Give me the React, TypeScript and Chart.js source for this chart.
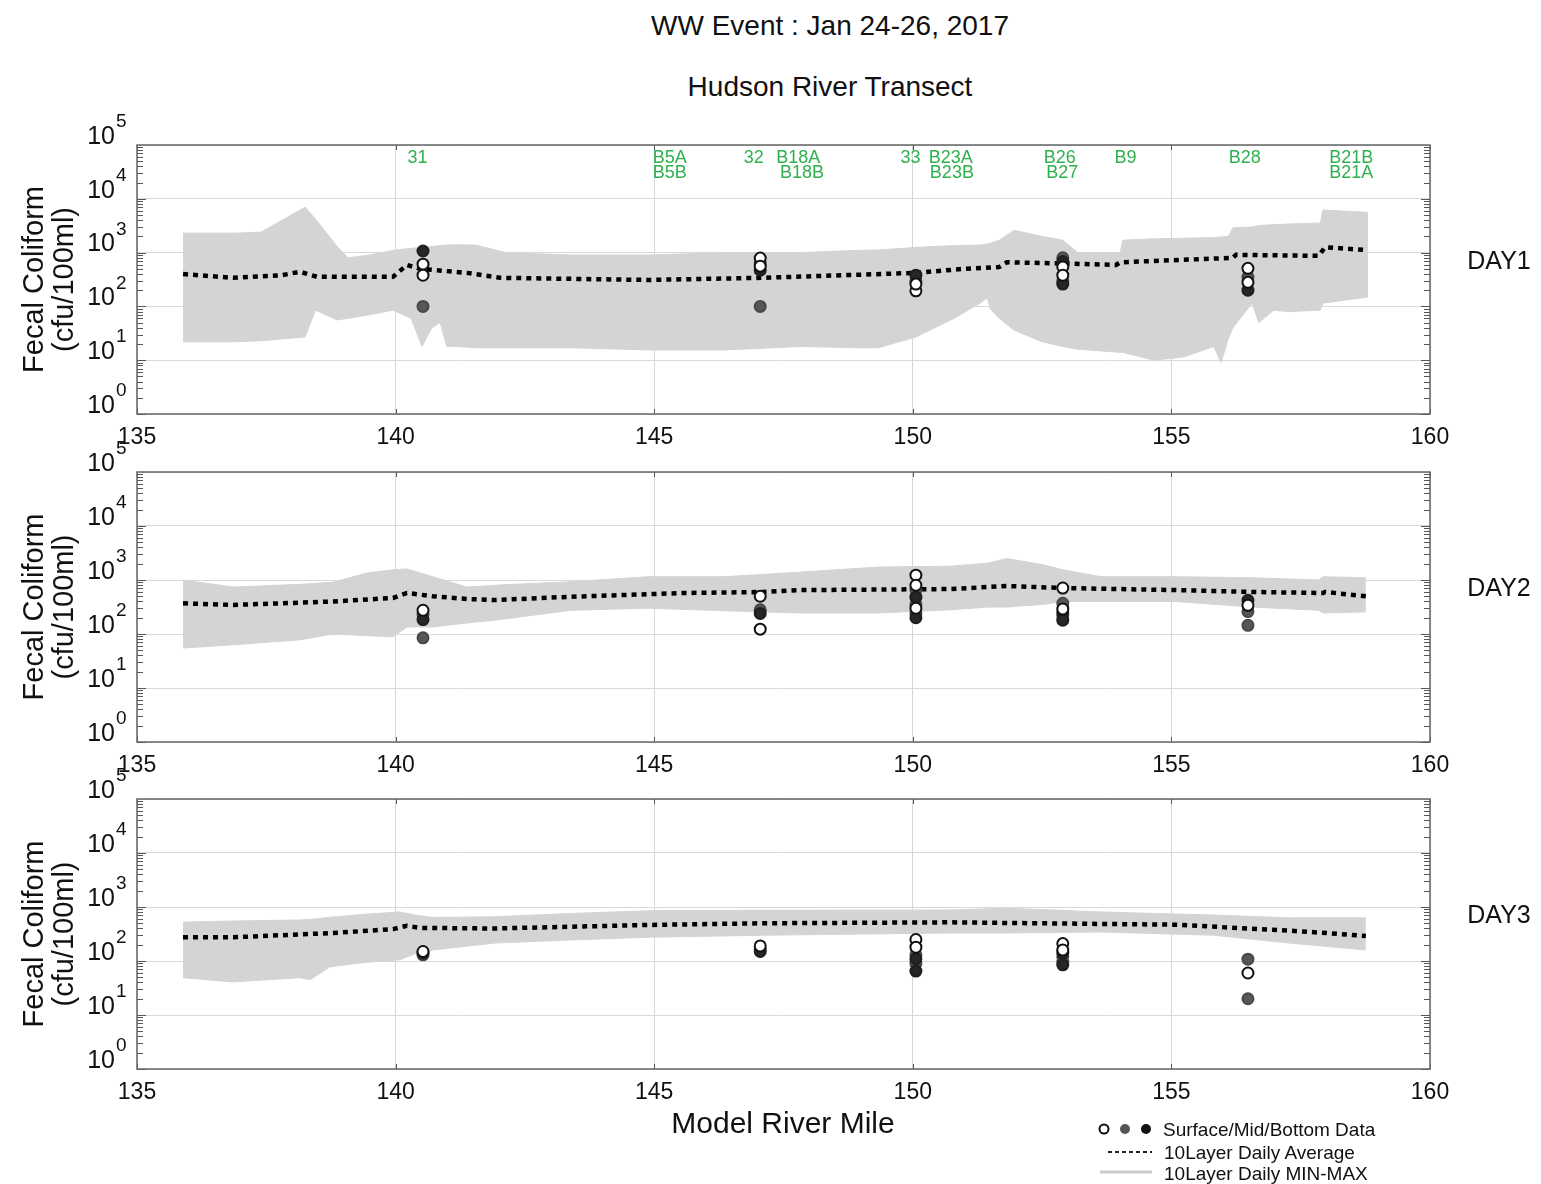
import React, { useEffect, useRef } from 'react';
import { Chart, registerables } from 'chart.js';

Chart.register(...registerables);

const FONT = '"Liberation Sans", Arial, Helvetica, sans-serif';

// ---------- axes ----------
const X_MIN = 135;
const X_MAX = 160;
const xTickValues = [135, 140, 145, 150, 155, 160];
const yExponents = [0, 1, 2, 3, 4, 5];

// ---------- station labels (panel 1) ----------
const stationNames = ['31', 'B5A', 'B5B', '32', 'B18A', 'B18B', '33', 'B23A', 'B23B', 'B26', 'B27', 'B9', 'B28', 'B21B', 'B21A'];
const stationLabelMiles = [140.23, 144.97, 144.97, 146.73, 147.36, 147.43, 149.76, 150.31, 150.33, 152.53, 152.58, 153.9, 156.11, 158.05, 158.05];
const stationLabelRows = [0, 0, 1, 0, 0, 1, 0, 0, 1, 0, 1, 0, 0, 0, 1];

// ---------- sampling locations ----------
const sampleMiles = [140.53, 147.05, 150.06, 152.9, 156.48];

// ---------- DAY 1 ----------
const day1BandMiles = [135.89, 136.9, 137.4, 138.25, 138.45, 138.87, 139.08, 139.5, 139.95, 140.3, 140.51, 140.7, 140.86, 140.99, 141.19, 141.55, 142.13, 143.4, 144.9, 146.35, 147.84, 148.94, 149.33, 150.06, 150.8, 151.3, 151.44, 151.5, 151.67, 151.96, 152.5, 152.9, 153.19, 154.01, 154.06, 154.66, 155.24, 155.82, 155.96, 156.1, 156.19, 156.56, 156.69, 156.98, 157.27, 157.88, 157.93, 158.8];
const day1BandMin = [22, 22, 23, 27, 85, 56, 60, 70, 85, 60, 18, 40, 50, 18, 18, 17, 17, 17, 15.5, 15.5, 18, 17, 17, 27, 60, 115, 145, 90, 60, 36, 22, 18, 16, 14, 14, 10, 11.5, 18, 9, 25, 40, 115, 50, 85, 80, 85, 115, 150];
const day1BandMax = [2300, 2300, 2400, 7000, 4200, 1300, 800, 900, 1100, 1200, 1250, 1300, 1350, 1380, 1400, 1380, 1000, 900, 900, 1000, 1000, 1100, 1120, 1250, 1350, 1380, 1450, 1500, 1700, 2600, 2000, 1700, 1000, 1000, 1700, 1800, 1850, 1900, 1950, 2000, 2900, 3000, 3200, 3300, 3400, 3550, 6200, 5600];
const day1AvgMiles = [135.89, 136.86, 137.8, 138.15, 138.48, 139.95, 140.22, 140.47, 141.38, 142.02, 144.88, 147.1, 150.06, 151.0, 151.67, 151.82, 152.9, 153.93, 154.01, 156.19, 156.25, 157.85, 157.97, 158.74];
const day1Avg = [400, 340, 380, 440, 355, 355, 590, 500, 420, 340, 310, 340, 420, 500, 540, 660, 630, 590, 660, 800, 910, 870, 1260, 1120];
const day1Surface = [[610, 380], [790, 560], [195, 260], [540, 380], [510, 280]];
const day1Mid = [[100], [640, 100], [300], [800, 300], [350]];
const day1Bottom = [[1070], [470], [380], [680, 260], [200]];

// ---------- DAY 2 ----------
const day2BandMiles = [135.89, 136.86, 138.15, 138.79, 139.45, 139.95, 140.22, 140.72, 141.38, 141.92, 143.39, 144.88, 146.35, 147.84, 149.33, 150.72, 151.45, 151.82, 152.54, 152.9, 153.64, 155.09, 156.56, 157.85, 157.93, 158.76];
const day2BandMin = [55, 63, 78, 100, 93, 89, 135, 135, 160, 180, 275, 300, 270, 245, 245, 280, 315, 315, 355, 400, 400, 400, 315, 275, 245, 257];
const day2BandMax = [1000, 740, 830, 910, 1350, 1550, 1600, 1150, 740, 800, 930, 1150, 1150, 1400, 1740, 1800, 2050, 2500, 1900, 1550, 1150, 1150, 1100, 1000, 1150, 1100];
const day2AvgMiles = [135.89, 136.86, 138.79, 139.95, 140.22, 140.72, 141.38, 141.92, 143.39, 145.61, 147.1, 147.84, 150.72, 151.82, 152.9, 155.09, 156.56, 157.93, 157.97, 158.76];
const day2Avg = [370, 345, 400, 465, 575, 500, 445, 425, 490, 575, 600, 650, 680, 775, 710, 650, 600, 575, 600, 500];
const day2Surface = [[275], [500, 123], [1230, 800, 300], [710, 290], [340]];
const day2Mid = [[230, 85], [280], [650, 350, 240], [370, 220], [260, 145]];
const day2Bottom = [[185], [240], [480, 200], [250, 180], [420]];

// ---------- DAY 3 ----------
const day3BandMiles = [135.89, 136.86, 138.15, 138.35, 138.73, 139.45, 140.08, 140.41, 140.72, 141.92, 143.39, 144.88, 147.1, 150.72, 151.82, 153.64, 155.82, 157.27, 158.76];
const day3BandMin = [49, 41, 49, 45, 78, 95, 105, 140, 160, 215, 245, 275, 300, 330, 330, 345, 300, 215, 160];
const day3BandMax = [525, 550, 575, 590, 645, 740, 810, 700, 640, 660, 760, 850, 870, 880, 950, 810, 710, 630, 630];
const day3AvgMiles = [135.89, 136.86, 138.79, 139.95, 140.22, 140.47, 141.92, 144.88, 147.1, 150.72, 155.09, 157.27, 158.0, 158.76];
const day3Avg = [275, 275, 330, 390, 450, 410, 400, 465, 500, 520, 470, 365, 330, 290];
const day3Surface = [[150], [190], [250, 180], [210, 160], [60]];
const day3Mid = [[130], [165], [130, 90], [120, 95], [108, 20]];
const day3Bottom = [[140], [150], [110, 65], [140, 85], []];

// ---------- layout ----------
const W = 1541;
const PLOT_LEFT = 137;
const PLOT_RIGHT = 1430;
const PAD_TOP = 40;
const PAD_BOTTOM = 50;

const BAND_COLOR = 'rgb(212,212,212)';

const toPts = (xs: number[], ys: number[]) => xs.map((x, i) => ({ x, y: ys[i] }));
const samplePts = (vals: number[][]) => sampleMiles.flatMap((m, i) => vals[i].map((v) => ({ x: m, y: v })));

const decorPlugin = {
  id: 'panelDecor',
  afterDraw(chart: any, _args: any, opts: any) {
    const { ctx, chartArea: a, scales } = chart;
    const x = scales.x;
    const y = scales.y;
    ctx.save();

    // minor / major ticks on left & right axes
    ctx.strokeStyle = '#555';
    ctx.lineWidth = 1;
    ctx.beginPath();
    for (let e = 0; e < 5; e++) {
      for (let m = 1; m <= 9; m++) {
        const py = Math.round(y.getPixelForValue(m * Math.pow(10, e))) + 0.5;
        const len = m === 1 ? 9 : 6;
        ctx.moveTo(a.left, py);
        ctx.lineTo(a.left + len, py);
        ctx.moveTo(a.right, py);
        ctx.lineTo(a.right - len, py);
      }
    }
    for (const t of xTickValues) {
      const px = Math.round(x.getPixelForValue(t)) + 0.5;
      ctx.moveTo(px, a.bottom);
      ctx.lineTo(px, a.bottom - 5);
      ctx.moveTo(px, a.top);
      ctx.lineTo(px, a.top + 5);
    }
    ctx.stroke();

    // frame
    ctx.strokeStyle = '#666';
    ctx.lineWidth = 1.5;
    ctx.strokeRect(a.left, a.top, a.right - a.left, a.bottom - a.top);

    // y tick labels 10^n
    ctx.fillStyle = '#111';
    for (const e of yExponents) {
      const py = y.getPixelForValue(Math.pow(10, e)) - 8;
      ctx.font = `25px ${FONT}`;
      ctx.textAlign = 'right';
      ctx.textBaseline = 'middle';
      ctx.fillText('10', 115, py);
      ctx.font = `19px ${FONT}`;
      ctx.textAlign = 'left';
      ctx.fillText(String(e), 116, py - 15);
    }

    // y axis title (two lines, rotated)
    const cy = (a.top + a.bottom) / 2;
    ctx.font = `29px ${FONT}`;
    ctx.textAlign = 'center';
    ctx.textBaseline = 'alphabetic';
    ctx.save();
    ctx.translate(43, cy);
    ctx.rotate(-Math.PI / 2);
    ctx.fillText('Fecal Coliform', 0, 0);
    ctx.restore();
    ctx.save();
    ctx.translate(73, cy);
    ctx.rotate(-Math.PI / 2);
    ctx.fillText('(cfu/100ml)', 0, 0);
    ctx.restore();

    // day label
    ctx.font = `25px ${FONT}`;
    ctx.textAlign = 'center';
    ctx.textBaseline = 'middle';
    ctx.fillStyle = '#111';
    ctx.fillText(opts.day, 1499, a.top + 117);

    // station labels
    if (opts.stations) {
      ctx.font = `18px ${FONT}`;
      ctx.textAlign = 'left';
      ctx.textBaseline = 'middle';
      ctx.fillStyle = '#2fb04e';
      stationNames.forEach((name, i) => {
        const px = x.getPixelForValue(stationLabelMiles[i]);
        ctx.fillText(name, px, a.top + 13 + stationLabelRows[i] * 15);
      });
    }
    ctx.restore();
  },
};

type PanelCfg = {
  top: number;
  bottom: number;
  day: string;
  stations: boolean;
  bandMiles: number[];
  bandMin: number[];
  bandMax: number[];
  avgMiles: number[];
  avg: number[];
  surface: number[][];
  mid: number[][];
  bottomLayer: number[][];
};

function Panel({ cfg }: { cfg: PanelCfg }) {
  const ref = useRef<HTMLCanvasElement>(null);
  const h = cfg.bottom - cfg.top;
  const H = h + PAD_TOP + PAD_BOTTOM;

  useEffect(() => {
    if (!ref.current) return;
    const pointBase = { showLine: false, pointRadius: 5.5, pointBorderWidth: 2, pointHoverRadius: 5.5 };
    const chart = new Chart(ref.current, {
      type: 'line',
      data: {
        datasets: [
          { ...pointBase, label: 'Surface', data: samplePts(cfg.surface), pointBackgroundColor: '#ffffff', pointBorderColor: '#111111', borderColor: '#111', order: 0 } as any,
          { ...pointBase, label: 'Bottom', data: samplePts(cfg.bottomLayer), pointBackgroundColor: '#262626', pointBorderColor: '#1e1e1e', borderColor: '#222', order: 1 } as any,
          { ...pointBase, label: 'Mid', data: samplePts(cfg.mid), pointBackgroundColor: '#575757', pointBorderColor: '#484848', borderColor: '#555', order: 2 } as any,
          { label: 'Average', data: toPts(cfg.avgMiles, cfg.avg), borderColor: '#000', borderWidth: 4.5, borderDash: [5, 5], borderCapStyle: 'butt', pointRadius: 0, tension: 0, fill: false, order: 3 } as any,
          { label: 'Max', data: toPts(cfg.bandMiles, cfg.bandMax), borderColor: BAND_COLOR, backgroundColor: BAND_COLOR, borderWidth: 1, pointRadius: 0, tension: 0, fill: '+1', order: 4 } as any,
          { label: 'Min', data: toPts(cfg.bandMiles, cfg.bandMin), borderColor: BAND_COLOR, backgroundColor: BAND_COLOR, borderWidth: 1, pointRadius: 0, tension: 0, fill: false, order: 5 } as any,
        ],
      },
      options: {
        responsive: false,
        animation: false,
        devicePixelRatio: 1,
        events: [],
        layout: { padding: { left: PLOT_LEFT, right: W - PLOT_RIGHT, top: PAD_TOP, bottom: PAD_BOTTOM - 40 } },
        scales: {
          x: {
            type: 'linear',
            min: X_MIN,
            max: X_MAX,
            afterBuildTicks: (axis: any) => {
              axis.ticks = xTickValues.map((v) => ({ value: v }));
            },
            afterFit: (axis: any) => {
              axis.height = 40;
            },
            ticks: {
              autoSkip: false,
              maxRotation: 0,
              padding: 10,
              color: '#111',
              font: { size: 23, family: FONT },
              callback: (v: any) => String(v),
            },
            grid: { color: '#d6d6d6', lineWidth: 1, drawTicks: false },
            border: { display: false },
          },
          y: {
            type: 'logarithmic',
            min: 1,
            max: 100000,
            afterBuildTicks: (axis: any) => {
              axis.ticks = yExponents.map((e) => ({ value: Math.pow(10, e) }));
            },
            afterFit: (axis: any) => {
              axis.width = 0;
            },
            ticks: { display: false },
            grid: { color: '#d9d9d9', lineWidth: 1, drawTicks: false },
            border: { display: false },
          },
        },
        plugins: {
          legend: { display: false },
          tooltip: { enabled: false },
          panelDecor: { day: cfg.day, stations: cfg.stations },
        } as any,
      },
      plugins: [decorPlugin],
    });
    return () => chart.destroy();
  }, []);

  return (
    <canvas
      ref={ref}
      width={W}
      height={H}
      style={{ position: 'absolute', left: 0, top: cfg.top - PAD_TOP, width: W, height: H }}
    />
  );
}

const panels: PanelCfg[] = [
  { top: 145, bottom: 414, day: 'DAY1', stations: true, bandMiles: day1BandMiles, bandMin: day1BandMin, bandMax: day1BandMax, avgMiles: day1AvgMiles, avg: day1Avg, surface: day1Surface, mid: day1Mid, bottomLayer: day1Bottom },
  { top: 472, bottom: 742, day: 'DAY2', stations: false, bandMiles: day2BandMiles, bandMin: day2BandMin, bandMax: day2BandMax, avgMiles: day2AvgMiles, avg: day2Avg, surface: day2Surface, mid: day2Mid, bottomLayer: day2Bottom },
  { top: 799, bottom: 1069, day: 'DAY3', stations: false, bandMiles: day3BandMiles, bandMin: day3BandMin, bandMax: day3BandMax, avgMiles: day3AvgMiles, avg: day3Avg, surface: day3Surface, mid: day3Mid, bottomLayer: day3Bottom },
];

function CenterText({ text, cx, cy, size }: { text: string; cx: number; cy: number; size: number }) {
  return (
    <div
      style={{
        position: 'absolute',
        left: cx - 400,
        width: 800,
        top: cy - size / 2,
        height: size,
        lineHeight: `${size}px`,
        fontSize: size,
        textAlign: 'center',
        whiteSpace: 'nowrap',
        color: '#111',
      }}
    >
      {text}
    </div>
  );
}

function LeftText({ text, x, cy, size }: { text: string; x: number; cy: number; size: number }) {
  return (
    <div
      style={{
        position: 'absolute',
        left: x,
        top: cy - size / 2,
        height: size,
        lineHeight: `${size}px`,
        fontSize: size,
        whiteSpace: 'nowrap',
        color: '#111',
      }}
    >
      {text}
    </div>
  );
}

export default function App() {
  return (
    <div
      style={{
        position: 'absolute',
        left: 0,
        top: 0,
        width: W,
        height: 1184,
        overflow: 'hidden',
        background: '#fff',
        fontFamily: FONT,
      }}
    >
      <CenterText text="WW Event : Jan 24-26, 2017" cx={830} cy={26} size={28} />
      <CenterText text="Hudson River Transect" cx={830} cy={87} size={28} />
      {panels.map((p) => (
        <Panel key={p.day} cfg={p} />
      ))}
      <CenterText text="Model River Mile" cx={783} cy={1123} size={30} />
      <svg style={{ position: 'absolute', left: 1090, top: 1115, width: 80, height: 69 }} width={80} height={69}>
        <circle cx={14} cy={14} r={4.5} fill="#fff" stroke="#111" strokeWidth={2} />
        <circle cx={35} cy={14} r={5} fill="#555" />
        <circle cx={56} cy={14} r={5} fill="#111" />
        <line x1={18} y1={37} x2={62} y2={37} stroke="#222" strokeWidth={2} strokeDasharray="4 3" />
        <line x1={10} y1={57} x2={62} y2={57} stroke="#cccccc" strokeWidth={3} />
      </svg>
      <LeftText text="Surface/Mid/Bottom Data" x={1163} cy={1129} size={19} />
      <LeftText text="10Layer Daily Average" x={1164} cy={1152} size={19} />
      <LeftText text="10Layer Daily MIN-MAX" x={1164} cy={1173} size={19} />
    </div>
  );
}
